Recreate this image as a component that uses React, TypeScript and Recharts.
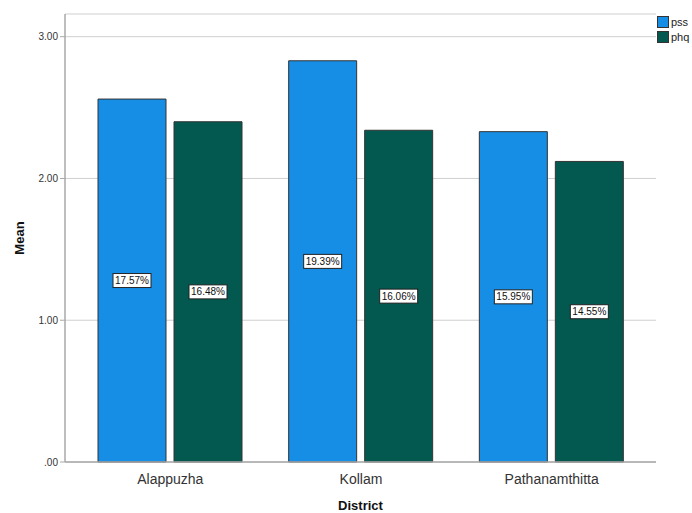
import { BarChart, Bar, XAxis, YAxis, CartesianGrid, LabelList } from "recharts";

const districts = ["Alappuzha", "Kollam", "Pathanamthitta"];
const pssMean = [2.56, 2.83, 2.33];
const phqMean = [2.40, 2.34, 2.12];
const pssPct = ["17.57%", "19.39%", "15.95%"];
const phqPct = ["16.48%", "16.06%", "14.55%"];
const yTicks = [0, 1, 2, 3];
const seriesNames = ["pss", "phq"];

const data = districts.map((d, i) => ({
  district: d,
  pss: pssMean[i],
  phq: phqMean[i],
  pssLabel: pssPct[i],
  phqLabel: phqPct[i],
}));

const PSS_COLOR = "#168ee6";
const PHQ_COLOR = "#03584f";
const colors = [PSS_COLOR, PHQ_COLOR];
const FONT = "'Liberation Sans', Arial, sans-serif";

// white box with border in the middle of the bar
const BoxLabel = (props: any) => {
  const { x, y, width, height, value } = props;
  const cx = x + width / 2;
  const cy = y + height / 2;
  const w = 38;
  const h = 14;
  return (
    <g>
      <rect x={cx - w / 2} y={cy - h / 2} width={w} height={h} fill="#fff" stroke="#222" strokeWidth={1} />
      <text x={cx} y={cy + 3.5} textAnchor="middle" fontSize={10} fill="#111" fontFamily={FONT}>
        {value}
      </text>
    </g>
  );
};

export default function App() {
  return (
    <div style={{ position: "absolute", left: 0, top: 0, width: 692, height: 513, background: "#fff" }}>
      <BarChart
        width={692}
        height={513}
        data={data}
        margin={{ top: 14, right: 36, left: 0, bottom: 0 }}
        barGap={8}
        barSize={68}
      >
        <CartesianGrid vertical={false} stroke="#cfcfcf" />
        <XAxis
          dataKey="district"
          height={51}
          padding={{ left: 10, right: 9 }}
          tickLine={false}
          axisLine={{ stroke: "#a8a8a8", strokeWidth: 1.5 }}
          tick={{ fontSize: 14, fill: "#333", fontFamily: FONT }}
          tickMargin={6}
          label={{
            value: "District",
            position: "insideBottom",
            offset: 3,
            style: { fontSize: 13, fontWeight: "bold", fill: "#111", fontFamily: FONT },
          }}
        />
        <YAxis
          width={65}
          domain={[0, 3.16]}
          ticks={yTicks}
          tickFormatter={(v: number) => (v === 0 ? ".00" : v.toFixed(2))}
          tickSize={5}
          tickLine={{ stroke: "#a8a8a8" }}
          axisLine={{ stroke: "#a8a8a8", strokeWidth: 1.5 }}
          tick={{ fontSize: 10, fill: "#333", fontFamily: FONT }}
          label={{
            value: "Mean",
            angle: -90,
            position: "insideLeft",
            offset: 19,
            style: { fontSize: 13, fontWeight: "bold", fill: "#111", fontFamily: FONT, textAnchor: "middle" },
          }}
        />
        <Bar dataKey="pss" fill={PSS_COLOR} stroke="#333" strokeWidth={1} isAnimationActive={false}>
          <LabelList dataKey="pssLabel" content={<BoxLabel />} />
        </Bar>
        <Bar dataKey="phq" fill={PHQ_COLOR} stroke="#333" strokeWidth={1} isAnimationActive={false}>
          <LabelList dataKey="phqLabel" content={<BoxLabel />} />
        </Bar>
      </BarChart>
      <div style={{ position: "absolute", left: 657, top: 14, fontFamily: FONT, fontSize: 11, color: "#222" }}>
        {seriesNames.map((name, i) => (
          <div key={name} style={{ display: "flex", alignItems: "center", height: 15 }}>
            <span
              style={{
                width: 10,
                height: 10,
                background: colors[i],
                border: "1px solid #333",
                marginRight: 2,
                display: "inline-block",
              }}
            />
            {name}
          </div>
        ))}
      </div>
    </div>
  );
}
